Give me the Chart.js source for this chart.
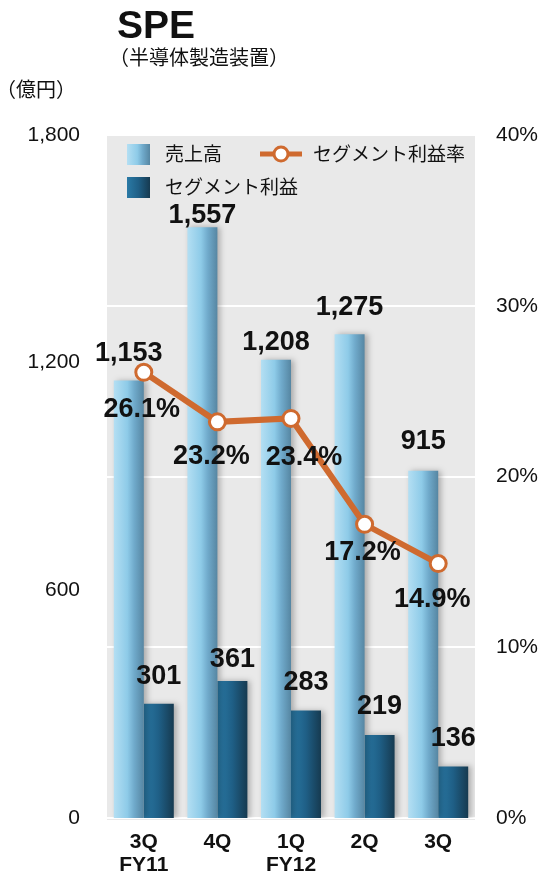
<!DOCTYPE html>
<html>
  <head>
    <meta charset="utf-8">
    <title>SPE</title>
    <script src="https://cdn.jsdelivr.net/npm/chart.js@4.4.1/dist/chart.umd.min.js"></script>
    <style>
      html, body { margin: 0; padding: 0; background: #fff; }
      #wrap { width: 546px; height: 881px; }
    </style>
  </head>
  <body>
    <div id="wrap"><canvas id="myChart"></canvas></div>

    <script>
      // data
      const categories = [['3Q', 'FY11'], ['4Q'], ['1Q', 'FY12'], ['2Q'], ['3Q']];
      const sales = [1153, 1557, 1208, 1275, 915];
      const profit = [301, 361, 283, 219, 136];
      const margin = [26.1, 23.2, 23.4, 17.2, 14.9];
      const leftTicks = [0, 600, 1200, 1800];
      const rightTicks = [0, 10, 20, 30, 40];

      const NUM = '"Liberation Sans", Arial, sans-serif';
      const JP = '"Noto Sans CJK JP", sans-serif';
      const ORANGE = '#cf6a2f';
      const CAT_PCT = 0.815;

      const salesStops = [[0, '#b4dff3'], [0.45, '#8ecbe8'], [0.68, '#70aacb'], [1, '#5686a2']];
      const profitStops = [[0, '#2a7aa6'], [0.5, '#1f5f86'], [1, '#163a50']];

      const fmt = v => v.toLocaleString('en-US');

      function gradient(ctx, x0, x1, stops) {
        const g = ctx.createLinearGradient(x0, 0, x1, 0);
        stops.forEach(s => g.addColorStop(s[0], s[1]));
        return g;
      }

      // horizontal gradient per bar, left (-1) or right (+1) half of the group
      function barFill(stops, side) {
        return c => {
          const x = c.chart.scales.x;
          if (!x || c.dataIndex === undefined) return stops[1][1];
          const center = x.getPixelForValue(c.dataIndex);
          const half = x.width / categories.length * CAT_PCT / 2;
          if (!isFinite(center) || !isFinite(half) || half <= 0) return stops[1][1];
          const x0 = side < 0 ? center - half : center;
          return gradient(c.chart.ctx, x0, x0 + half, stops);
        };
      }

      const panel = {
        id: 'panel',
        beforeDraw(chart) {
          const a = chart.chartArea, ctx = chart.ctx;
          ctx.save();
          ctx.fillStyle = '#e9e9e9';
          ctx.fillRect(a.left, a.top, a.right - a.left, a.bottom - a.top + 2);
          ctx.restore();
        },
        beforeDatasetDraw(chart, args) {
          if (args.meta.type !== 'bar') return;
          const ctx = chart.ctx;
          ctx.save();
          ctx.shadowColor = 'rgba(0,0,0,0.28)';
          ctx.shadowBlur = 6;
          ctx.shadowOffsetX = 3;
          ctx.shadowOffsetY = 0;
        },
        afterDatasetDraw(chart, args) {
          if (args.meta.type !== 'bar') return;
          chart.ctx.restore();
        }
      };

      const headings = {
        id: 'headings',
        afterDraw(chart) {
          const ctx = chart.ctx;
          ctx.save();
          ctx.fillStyle = '#111';
          ctx.textAlign = 'left';
          ctx.textBaseline = 'alphabetic';
          ctx.font = 'bold 39px ' + NUM;
          ctx.fillText('SPE', 117, 38);
          ctx.textBaseline = 'middle';
          ctx.font = '20px ' + JP;
          ctx.fillText('（半導体製造装置）', 109, 57);
          ctx.fillText('（億円）', -4, 89);
          ctx.restore();
        }
      };

      const legendBox = {
        id: 'legendBox',
        afterDatasetsDraw(chart) {
          const a = chart.chartArea, ctx = chart.ctx;
          const l = a.left, t = a.top;
          ctx.save();
          ctx.fillStyle = gradient(ctx, l + 20, l + 43, salesStops);
          ctx.fillRect(l + 20, t + 9, 23, 21);
          ctx.fillStyle = gradient(ctx, l + 20, l + 43, profitStops);
          ctx.fillRect(l + 20, t + 42, 23, 21);

          ctx.strokeStyle = ORANGE;
          ctx.lineWidth = 5;
          ctx.beginPath();
          ctx.moveTo(l + 153, t + 19);
          ctx.lineTo(l + 195, t + 19);
          ctx.stroke();
          ctx.beginPath();
          ctx.arc(l + 174, t + 19, 7, 0, Math.PI * 2);
          ctx.fillStyle = '#fff';
          ctx.fill();
          ctx.lineWidth = 3;
          ctx.stroke();

          ctx.fillStyle = '#111';
          ctx.font = '19px ' + JP;
          ctx.textBaseline = 'middle';
          ctx.textAlign = 'left';
          ctx.fillText('売上高', l + 58, t + 19);
          ctx.fillText('セグメント利益率', l + 206, t + 19);
          ctx.fillText('セグメント利益', l + 58, t + 52);
          ctx.restore();
        }
      };

      const valueLabels = {
        id: 'valueLabels',
        afterDatasetsDraw(chart, args, opts) {
          const ctx = chart.ctx;
          ctx.save();
          ctx.fillStyle = '#111';
          ctx.textAlign = 'center';
          ctx.textBaseline = 'middle';
          ctx.font = 'bold 27px ' + NUM;
          chart.getDatasetMeta(0).data.forEach((bar, i) => {
            ctx.fillText(fmt(sales[i]), bar.x, bar.y - opts.salesGap[i]);
          });
          chart.getDatasetMeta(1).data.forEach((bar, i) => {
            ctx.fillText(fmt(profit[i]), bar.x, bar.y - opts.profitGap[i]);
          });
          chart.getDatasetMeta(2).data.forEach((pt, i) => {
            ctx.fillText(margin[i].toFixed(1) + '%', pt.x + opts.pctDx[i], pt.y + opts.pctDy[i]);
          });
          ctx.restore();
        }
      };

      const ctx = document.getElementById('myChart').getContext('2d');
      const myChart = new Chart(ctx, {
        data: {
          labels: categories,
          datasets: [{
            type: 'bar',
            label: '売上高',
            data: sales,
            backgroundColor: barFill(salesStops, -1),
            categoryPercentage: CAT_PCT,
            barPercentage: 1,
            order: 1
          }, {
            type: 'bar',
            label: 'セグメント利益',
            data: profit,
            backgroundColor: barFill(profitStops, 1),
            categoryPercentage: CAT_PCT,
            barPercentage: 1,
            order: 1
          }, {
            type: 'line',
            label: 'セグメント利益率',
            data: margin,
            yAxisID: 'y2',
            borderColor: ORANGE,
            borderWidth: 6,
            pointRadius: 8,
            pointBorderWidth: 3,
            pointBackgroundColor: '#fff',
            pointBorderColor: ORANGE,
            order: 0
          }]
        },
        options: {
          responsive: true,
          maintainAspectRatio: false,
          animation: false,
          layout: { padding: { top: 135, left: 0, right: 0, bottom: 0 } },
          plugins: {
            legend: { display: false },
            tooltip: { enabled: false },
            valueLabels: {
              salesGap: [27, 12, 17, 27, 29],
              profitGap: [27, 21, 28, 28, 28],
              pctDx: [-2, -6, 13, -2, -6],
              pctDy: [37, 35, 39, 28, 36]
            }
          },
          scales: {
            x: {
              grid: { display: false },
              border: { display: false },
              ticks: {
                color: '#111',
                font: { family: NUM, size: 21, weight: 'bold', lineHeight: 1.1 },
                padding: 5,
                maxRotation: 0
              },
              afterFit: s => { s.height = 63; }
            },
            y: {
              position: 'left',
              min: 0,
              max: 1800,
              grid: { display: false },
              border: { display: false },
              afterBuildTicks: s => { s.ticks = leftTicks.map(v => ({ value: v })); },
              ticks: {
                color: '#111',
                font: { family: NUM, size: 21 },
                padding: 19,
                callback: v => fmt(v)
              },
              afterFit: s => { s.width = 107; }
            },
            y2: {
              position: 'right',
              min: 0,
              max: 40,
              grid: { color: '#fff', lineWidth: 2, drawTicks: false },
              border: { display: false },
              afterBuildTicks: s => { s.ticks = rightTicks.map(v => ({ value: v })); },
              ticks: {
                color: '#111',
                font: { family: NUM, size: 21 },
                padding: 21,
                callback: v => v + '%'
              },
              afterFit: s => { s.width = 71; }
            }
          }
        },
        plugins: [panel, legendBox, valueLabels, headings]
      });
    </script>
  </body>
</html>
